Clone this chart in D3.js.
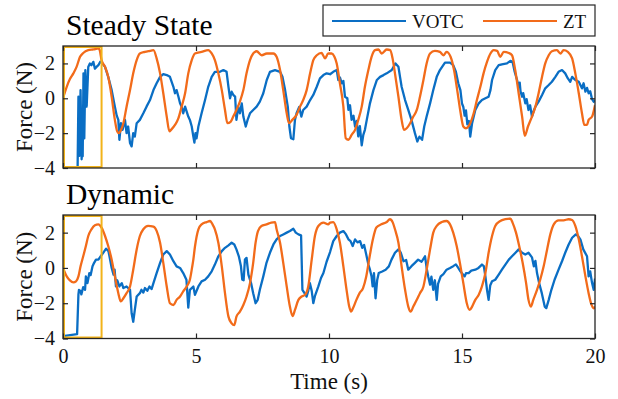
<!DOCTYPE html>
<html>
<head>
<meta charset="utf-8">
<script src="https://cdn.jsdelivr.net/npm/d3@7"></script>
<style>
  body { margin: 0; background: #fff; }
  svg { display: block; font-family: "Liberation Serif", "Times New Roman", serif; }
</style>
</head>
<body>
<div id="chart"></div>
<script>
// [time (s), force (N)]
const steadyZT = [[0,0],[0.14,0.66],[0.26,1.1],[0.39,1.43],[0.51,1.8],[0.64,2.38],[0.76,2.6],[0.95,2.76],[1.14,2.8],[1.33,2.86],[1.38,2.76],[1.45,2.19],[1.58,1.8],[1.7,1.23],[1.83,0.09],[1.95,-1.24],[2.04,-1.91],[2.1,-2.0],[2.17,-1.85],[2.27,-1.43],[2.39,-0.48],[2.52,0.47],[2.64,1.43],[2.77,2.19],[2.89,2.57],[3.08,2.66],[3.27,2.72],[3.4,2.76],[3.52,2.29],[3.65,1.43],[3.77,0.29],[3.9,-1.05],[4.0,-1.9],[4.07,-1.8],[4.21,-1.53],[4.34,-1.14],[4.46,-0.48],[4.59,0.29],[4.71,1.43],[4.84,2.19],[4.96,2.57],[5.21,2.66],[5.46,2.76],[5.59,2.57],[5.71,2.19],[5.84,1.43],[5.97,0.47],[6.09,-0.67],[6.18,-1.43],[6.3,-1.35],[6.4,-1.05],[6.52,-0.67],[6.65,-0.19],[6.78,0.47],[6.9,1.43],[7.03,2.19],[7.15,2.57],[7.28,2.7],[7.47,2.47],[7.66,2.57],[7.91,2.57],[8.03,2.38],[8.16,1.62],[8.28,0.47],[8.41,-0.86],[8.5,-1.43],[8.62,-1.24],[8.78,-0.95],[8.91,-0.48],[9.03,-0.1],[9.16,0.47],[9.29,1.43],[9.41,2.19],[9.54,2.47],[9.72,2.6],[9.85,2.29],[9.97,2.57],[10.1,2.57],[10.2,2.4],[10.29,2.0],[10.41,0.86],[10.54,-0.48],[10.63,-2.29],[10.73,-2.38],[10.85,-2.1],[10.98,-1.81],[11.1,-1.24],[11.23,-0.48],[11.35,0.66],[11.48,1.62],[11.6,2.38],[11.73,2.76],[11.86,2.8],[11.98,2.57],[12.17,2.8],[12.3,2.76],[12.39,2.29],[12.48,1.43],[12.61,0.09],[12.73,-1.24],[12.82,-1.81],[12.92,-1.72],[13.05,-1.43],[13.17,-1.05],[13.3,-0.67],[13.42,0.09],[13.55,1.05],[13.67,2.0],[13.8,2.57],[13.98,2.72],[14.17,2.66],[14.3,2.47],[14.42,2.66],[14.57,2.38],[14.7,1.62],[14.82,0.47],[14.95,-0.86],[15.05,-1.62],[15.15,-1.72],[15.25,-1.6],[15.31,-1.43],[15.44,-0.86],[15.56,-0.1],[15.69,0.66],[15.81,1.43],[15.94,2.09],[16.07,2.57],[16.19,2.76],[16.32,2.72],[16.44,2.38],[16.57,2.66],[16.76,2.6],[16.88,2.47],[17.0,1.62],[17.13,0.29],[17.26,-1.05],[17.36,-2.15],[17.48,-1.62],[17.63,-1.05],[17.76,-0.48],[17.88,0.29],[18.01,1.24],[18.13,2.0],[18.26,2.47],[18.38,2.7],[18.57,2.76],[18.7,2.57],[18.82,2.76],[18.98,2.66],[19.14,2.29],[19.26,1.43],[19.39,0.29],[19.51,-0.86],[19.6,-1.53],[19.7,-1.53],[19.76,-1.24],[19.89,-1.05],[20.0,-0.4]];

const steadyVOTC = [[0.5,-4.3],[0.55,-3.9],[0.58,0.09],[0.62,-3.3],[0.66,0.47],[0.7,-3.5],[0.72,-2.0],[0.74,-3.33],[0.77,1.43],[0.8,-2.3],[0.84,1.62],[0.89,-0.48],[0.95,1.8],[1.01,2.0],[1.07,1.9],[1.14,2.09],[1.2,1.7],[1.26,1.8],[1.33,1.9],[1.4,2.1],[1.48,2.0],[1.58,1.8],[1.7,1.23],[1.83,0.47],[1.95,-0.48],[2.02,-1.0],[2.08,-1.24],[2.12,-2.38],[2.18,-1.43],[2.24,-1.81],[2.33,-1.24],[2.39,-2.0],[2.45,-1.62],[2.52,-2.57],[2.58,-2.76],[2.64,-2.0],[2.7,-2.2],[2.77,-1.43],[2.89,-1.24],[3.02,-0.86],[3.14,-0.48],[3.27,-0.1],[3.4,0.47],[3.52,0.86],[3.65,1.23],[3.77,1.39],[3.9,1.33],[4.02,1.23],[4.15,0.66],[4.21,0.29],[4.27,0.47],[4.34,0.09],[4.4,-0.29],[4.46,-0.48],[4.52,-0.86],[4.59,-0.48],[4.65,-0.76],[4.71,-1.05],[4.77,-1.24],[4.84,-1.62],[4.9,-2.2],[4.94,-2.54],[4.98,-2.0],[5.02,-2.3],[5.09,-1.62],[5.21,-0.86],[5.34,-0.1],[5.46,0.66],[5.59,1.23],[5.71,1.52],[5.9,1.52],[6.03,1.62],[6.15,1.52],[6.22,0.66],[6.28,0.0],[6.34,0.38],[6.4,0.2],[6.47,0.1],[6.52,-1.24],[6.59,-0.48],[6.65,-0.86],[6.72,-0.29],[6.78,-1.05],[6.87,-1.62],[6.94,-1.24],[7.03,-0.86],[7.15,-0.67],[7.28,-0.48],[7.4,-0.19],[7.53,0.29],[7.66,1.05],[7.78,1.52],[7.97,1.62],[8.16,1.52],[8.25,1.23],[8.35,0.47],[8.45,-0.48],[8.51,-1.62],[8.57,-2.29],[8.66,-2.35],[8.72,-1.24],[8.78,-0.86],[8.88,-0.5],[8.96,-1.05],[9.03,-0.67],[9.16,-0.48],[9.29,-0.1],[9.41,0.19],[9.54,0.66],[9.66,1.14],[9.79,1.33],[9.91,1.43],[10.04,1.38],[10.16,1.52],[10.29,1.62],[10.35,1.05],[10.41,1.2],[10.48,0.86],[10.54,1.0],[10.6,0.09],[10.69,0.0],[10.73,-0.67],[10.79,-0.4],[10.85,-1.24],[10.92,-1.0],[10.98,-1.62],[11.04,-1.3],[11.1,-2.19],[11.16,-1.6],[11.23,-2.7],[11.29,-2.1],[11.35,-1.81],[11.42,-1.24],[11.54,-0.29],[11.67,0.47],[11.8,1.05],[11.92,1.23],[12.05,1.33],[12.17,1.43],[12.36,1.62],[12.5,2.0],[12.61,1.81],[12.67,1.23],[12.73,0.66],[12.86,-0.1],[12.98,-0.67],[13.1,-1.24],[13.23,-2.0],[13.32,-2.48],[13.4,-2.2],[13.5,-2.38],[13.58,-1.62],[13.67,-1.05],[13.8,-0.29],[13.92,0.47],[14.05,1.23],[14.17,1.62],[14.36,2.05],[14.55,2.05],[14.67,1.9],[14.77,1.52],[14.86,0.86],[14.94,0.47],[15.0,-0.3],[15.05,-0.5],[15.1,-1.0],[15.15,-0.7],[15.2,-1.5],[15.26,-1.3],[15.31,-2.2],[15.38,-1.43],[15.5,-0.67],[15.63,-0.29],[15.75,-0.1],[15.88,0.0],[16.0,0.09],[16.07,0.47],[16.13,1.05],[16.25,1.62],[16.38,1.9],[16.5,1.95],[16.69,2.0],[16.82,2.15],[16.9,2.09],[16.98,1.52],[17.07,1.05],[17.13,0.66],[17.17,0.9],[17.2,0.4],[17.26,0.09],[17.3,0.3],[17.38,-0.29],[17.43,-0.05],[17.5,-0.67],[17.56,-0.4],[17.63,-1.05],[17.7,-0.7],[17.76,-0.48],[17.88,-0.19],[18.01,0.19],[18.13,0.57],[18.26,0.76],[18.38,0.95],[18.51,1.23],[18.63,1.52],[18.76,1.62],[18.88,1.43],[18.98,1.14],[19.07,0.95],[19.14,1.23],[19.26,1.05],[19.39,0.95],[19.51,0.57],[19.57,0.86],[19.64,0.38],[19.7,0.6],[19.76,0.29],[19.82,0.4],[19.89,-0.05],[19.95,-0.2],[20.0,-0.1]];

const dynamicZT = [[0,0],[0.14,-0.48],[0.26,-0.71],[0.39,-0.82],[0.49,-0.76],[0.58,-0.48],[0.66,0.09],[0.76,0.66],[0.86,1.24],[0.95,1.81],[1.07,2.19],[1.2,2.42],[1.33,2.47],[1.45,2.28],[1.58,1.81],[1.7,1.24],[1.83,0.47],[1.95,-0.48],[2.08,-1.43],[2.17,-1.9],[2.27,-1.72],[2.39,-1.43],[2.52,-1.05],[2.64,-0.1],[2.77,1.05],[2.89,1.81],[3.02,2.19],[3.2,2.38],[3.4,2.34],[3.52,2.1],[3.65,1.43],[3.77,0.29],[3.9,-1.05],[4.02,-2.0],[4.15,-2.1],[4.27,-1.81],[4.4,-1.62],[4.52,-1.33],[4.65,-1.05],[4.77,-0.67],[4.85,0.0],[4.9,0.47],[4.96,1.2],[5.09,2.19],[5.21,2.47],[5.4,2.6],[5.53,2.66],[5.62,2.47],[5.71,2.19],[5.84,1.43],[5.97,0.09],[6.09,-1.43],[6.22,-2.76],[6.34,-3.14],[6.44,-3.24],[6.52,-2.76],[6.65,-2.48],[6.78,-2.1],[6.9,-1.62],[7.03,-0.86],[7.15,0.29],[7.24,1.43],[7.33,2.09],[7.46,2.38],[7.65,2.47],[7.83,2.57],[7.97,2.6],[8.03,2.19],[8.16,1.43],[8.28,0.29],[8.41,-1.05],[8.53,-2.19],[8.63,-2.73],[8.72,-2.38],[8.85,-1.81],[8.97,-1.62],[9.1,-1.52],[9.22,-1.05],[9.35,0.47],[9.47,1.81],[9.6,2.38],[9.79,2.57],[9.97,2.47],[10.04,2.57],[10.16,2.6],[10.29,2.19],[10.41,1.43],[10.54,0.09],[10.66,-1.24],[10.76,-2.19],[10.83,-2.48],[10.9,-2.29],[11.03,-1.81],[11.15,-1.43],[11.28,-1.14],[11.4,-0.48],[11.53,0.66],[11.65,1.62],[11.78,2.29],[11.97,2.47],[12.17,2.6],[12.29,2.76],[12.4,2.57],[12.48,2.19],[12.61,1.43],[12.73,0.09],[12.86,-1.24],[12.98,-2.19],[13.07,-2.48],[13.17,-2.19],[13.3,-1.81],[13.42,-1.43],[13.55,-1.05],[13.67,-0.1],[13.8,1.05],[13.92,2.0],[14.05,2.38],[14.24,2.6],[14.42,2.66],[14.55,2.47],[14.67,2.0],[14.8,1.24],[14.92,0.29],[15.05,-0.86],[15.18,-2.0],[15.29,-2.38],[15.38,-2.19],[15.5,-1.81],[15.63,-1.52],[15.75,-1.05],[15.88,-0.29],[16.0,0.86],[16.13,1.81],[16.25,2.38],[16.44,2.66],[16.63,2.76],[16.82,2.8],[16.9,2.57],[17.03,2.0],[17.15,1.24],[17.28,0.29],[17.41,-0.86],[17.5,-1.81],[17.59,-2.19],[17.68,-1.81],[17.82,-1.24],[17.94,-0.67],[18.07,0.09],[18.2,1.05],[18.32,1.9],[18.45,2.47],[18.63,2.7],[18.82,2.7],[19.01,2.76],[19.14,2.72],[19.26,2.38],[19.39,1.62],[19.51,0.66],[19.64,-0.48],[19.76,-1.43],[19.85,-2.0],[19.95,-2.29],[20.0,-2.19]];

const dynamicVOTC = [[0,-3.87],[0.53,-3.75],[0.58,-1.5],[0.6,-1.24],[0.65,-1.3],[0.69,-1.5],[0.76,-1.09],[0.83,-1.24],[0.86,-0.48],[0.92,-0.86],[0.99,-0.29],[1.04,-0.4],[1.11,0.09],[1.17,0.29],[1.24,0.47],[1.33,0.47],[1.42,0.66],[1.53,0.9],[1.62,1.09],[1.71,0.95],[1.77,0.47],[1.83,0.0],[1.9,-0.38],[1.94,-0.1],[1.99,-1.05],[2.04,-0.7],[2.12,-1.05],[2.21,-0.86],[2.27,-1.14],[2.39,-1.05],[2.52,-1.24],[2.58,-2.57],[2.64,-3.05],[2.7,-2.38],[2.77,-1.62],[2.89,-1.43],[2.95,-1.24],[3.02,-1.4],[3.08,-1.14],[3.17,-1.3],[3.25,-1.05],[3.33,-1.2],[3.4,-0.86],[3.52,-0.29],[3.65,0.29],[3.77,0.76],[3.9,0.95],[4.02,0.76],[4.15,0.38],[4.27,0.09],[4.4,0.0],[4.52,-0.29],[4.64,-0.67],[4.71,-2.25],[4.77,-1.24],[4.9,-1.05],[4.96,-1.52],[5.09,-1.05],[5.21,-0.76],[5.34,-0.67],[5.46,-0.48],[5.59,-0.19],[5.71,0.19],[5.84,0.66],[5.97,0.95],[6.09,1.14],[6.22,1.28],[6.34,1.43],[6.44,1.33],[6.52,1.05],[6.61,0.66],[6.69,0.09],[6.74,-0.67],[6.79,-0.7],[6.84,0.47],[6.9,0.57],[6.97,-0.38],[7.07,-0.86],[7.15,-1.43],[7.24,-2.0],[7.32,-1.81],[7.4,-1.24],[7.53,-0.48],[7.65,0.29],[7.78,0.86],[7.91,1.33],[8.03,1.62],[8.16,1.81],[8.28,1.9],[8.41,2.0],[8.53,2.09],[8.66,2.22],[8.75,2.0],[8.85,1.9],[8.95,1.85],[9.0,-1.24],[9.08,-1.43],[9.16,-1.62],[9.22,-1.3],[9.28,-0.86],[9.35,-1.3],[9.41,-2.0],[9.47,-1.6],[9.54,-1.3],[9.6,-1.05],[9.7,-0.57],[9.79,-0.29],[9.91,0.35],[10.04,0.9],[10.16,1.52],[10.29,1.81],[10.41,2.0],[10.54,2.09],[10.64,1.9],[10.73,1.62],[10.81,1.52],[10.89,1.24],[10.98,1.62],[11.07,1.45],[11.17,1.52],[11.25,1.14],[11.32,1.3],[11.4,0.76],[11.48,0.19],[11.54,-0.1],[11.6,-0.48],[11.64,-1.05],[11.69,-0.3],[11.75,-1.72],[11.81,-0.7],[11.87,-0.29],[12.0,-0.2],[12.13,-0.1],[12.25,0.09],[12.35,0.47],[12.48,0.86],[12.61,1.05],[12.7,0.86],[12.8,0.38],[12.9,0.45],[12.98,-0.1],[13.1,0.1],[13.23,0.29],[13.35,0.47],[13.48,0.35],[13.61,0.66],[13.67,0.0],[13.73,-0.48],[13.8,-0.95],[13.85,-0.5],[13.92,-1.24],[13.98,-0.7],[14.05,-1.81],[14.1,-0.9],[14.2,-0.48],[14.3,-0.35],[14.42,-0.1],[14.55,0.0],[14.67,0.1],[14.77,0.2],[14.86,0.0],[14.94,-0.19],[15.02,-0.35],[15.1,-0.48],[15.15,-0.3],[15.25,-0.29],[15.35,-0.15],[15.5,-0.1],[15.62,0.0],[15.75,0.19],[15.82,0.1],[15.88,-0.48],[15.94,-1.24],[16.0,-1.81],[16.06,-1.0],[16.13,-0.76],[16.25,-0.67],[16.38,-0.38],[16.5,-0.1],[16.63,0.19],[16.76,0.47],[16.88,0.66],[17.01,0.86],[17.13,1.05],[17.26,0.86],[17.38,0.76],[17.5,0.86],[17.63,0.6],[17.7,0.09],[17.76,0.4],[17.82,-0.29],[17.9,-0.86],[18.0,-1.43],[18.11,-2.19],[18.17,-2.28],[18.26,-1.81],[18.36,-1.24],[18.48,-0.67],[18.63,-0.1],[18.76,0.38],[18.88,0.86],[19.01,1.33],[19.14,1.71],[19.28,1.9],[19.36,1.81],[19.45,1.62],[19.56,1.05],[19.7,0.66],[19.76,-0.48],[19.82,-0.2],[19.89,-0.86],[19.95,-1.24],[20.0,-0.6]];

const panelTitles = ['Steady State', 'Dynamic'];
const seriesNames = ['VOTC', 'ZT'];
const xTicks = [0, 5, 10, 15, 20];
const yTicks = [-4, -2, 0, 2];
const highlightWindow = [0, 1.45]; // seconds, yellow box

const width = 618;
const height = 399;
const margin = { left: 63, right: 23 };
const colors = { VOTC: '#0a6ec4', ZT: '#f26b1a' };
const axisColor = '#262626';

const svg = d3.select('#chart')
  .append('svg')
  .attr('width', width)
  .attr('height', height);

const x = d3.scaleLinear()
  .domain([0, 20])
  .range([margin.left, width - margin.right]);

const panels = [
  { title: panelTitles[0], top: 46, bottom: 168, votc: steadyVOTC, zt: steadyZT, xLabels: false },
  { title: panelTitles[1], top: 215, bottom: 338.5, votc: dynamicVOTC, zt: dynamicZT, xLabels: true }
];

panels.forEach((p, i) => drawPanel(p, i));

function drawPanel(p, i) {
  const y = d3.scaleLinear()
    .domain([-4, 3])
    .range([p.bottom, p.top]);

  const g = svg.append('g');

  // clip lines to the axes box
  svg.append('clipPath')
    .attr('id', `clip${i}`)
    .append('rect')
    .attr('x', x(0))
    .attr('y', y(3))
    .attr('width', x(20) - x(0))
    .attr('height', y(-4) - y(3));

  const line = d3.line()
    .x(d => x(d[0]))
    .y(d => y(d[1]));

  const lines = g.append('g').attr('clip-path', `url(#clip${i})`);

  lines.append('path')
    .datum(p.votc)
    .attr('fill', 'none')
    .attr('stroke', colors.VOTC)
    .attr('stroke-width', 2.3)
    .attr('stroke-linejoin', 'round')
    .attr('d', line);

  lines.append('path')
    .datum(p.zt)
    .attr('fill', 'none')
    .attr('stroke', colors.ZT)
    .attr('stroke-width', 2.3)
    .attr('stroke-linejoin', 'round')
    .attr('d', line.curve(d3.curveMonotoneX));

  // highlighted window
  g.append('rect')
    .attr('x', x(highlightWindow[0]) + 1)
    .attr('y', y(3) + 1)
    .attr('width', x(highlightWindow[1]) - x(highlightWindow[0]) - 1)
    .attr('height', y(-4) - y(3) - 2)
    .attr('fill', 'none')
    .attr('stroke', '#f2b31a')
    .attr('stroke-width', 2);

  // axes: inward ticks on all four sides
  const left = g.append('g')
    .attr('transform', `translate(${x(0)},0)`)
    .call(d3.axisLeft(y).tickValues(yTicks).tickSizeInner(-5).tickSizeOuter(0).tickPadding(8).tickFormat(d3.format('d')));
  const right = g.append('g')
    .attr('transform', `translate(${x(20)},0)`)
    .call(d3.axisRight(y).tickValues(yTicks).tickSizeInner(-5).tickSizeOuter(0).tickFormat(''));
  const bottom = g.append('g')
    .attr('transform', `translate(0,${y(-4)})`)
    .call(d3.axisBottom(x).tickValues(xTicks).tickSizeInner(-5).tickSizeOuter(0).tickPadding(10)
      .tickFormat(p.xLabels ? d3.format('d') : ''));
  const top = g.append('g')
    .attr('transform', `translate(0,${y(3)})`)
    .call(d3.axisTop(x).tickValues(xTicks).tickSizeInner(-5).tickSizeOuter(0).tickFormat(''));

  [left, right, bottom, top].forEach(a => {
    a.select('.domain').remove();
    a.selectAll('line').attr('stroke', axisColor).attr('stroke-width', 1.2);
    a.selectAll('text')
      .attr('fill', '#111')
      .style('font-family', '"Liberation Serif", "Times New Roman", serif')
      .style('font-size', '20px');
  });

  g.append('rect')
    .attr('x', x(0))
    .attr('y', y(3))
    .attr('width', x(20) - x(0))
    .attr('height', y(-4) - y(3))
    .attr('fill', 'none')
    .attr('stroke', axisColor)
    .attr('stroke-width', 1.3);

  // panel title
  g.append('text')
    .attr('x', x(0) + 3)
    .attr('y', y(3) - 11)
    .attr('font-size', 29.5)
    .attr('fill', '#000')
    .text(p.title);

  // y label
  g.append('text')
    .attr('transform', `translate(32,${(p.top + p.bottom) / 2}) rotate(-90)`)
    .attr('text-anchor', 'middle')
    .attr('font-size', 23)
    .attr('fill', '#111')
    .text('Force (N)');
}

// x label
svg.append('text')
  .attr('x', (x(0) + x(20)) / 2)
  .attr('y', 389)
  .attr('text-anchor', 'middle')
  .attr('font-size', 23)
  .attr('fill', '#111')
  .text('Time (s)');

// legend
const legend = svg.append('g').attr('transform', 'translate(323,5)');

legend.append('rect')
  .attr('width', 272)
  .attr('height', 31)
  .attr('fill', '#fff')
  .attr('stroke', axisColor)
  .attr('stroke-width', 1.2);

const legendItems = legend.selectAll('g.item')
  .data(seriesNames)
  .join('g')
  .attr('class', 'item')
  .attr('transform', (d, i) => `translate(${9 + i * 151},16)`);

legendItems.append('line')
  .attr('x1', 0)
  .attr('x2', 74)
  .attr('stroke', d => colors[d])
  .attr('stroke-width', 2);

legendItems.append('text')
  .attr('x', 80)
  .attr('y', 7)
  .attr('font-size', 19)
  .attr('fill', '#111')
  .text(d => d);
</script>
</body>
</html>
